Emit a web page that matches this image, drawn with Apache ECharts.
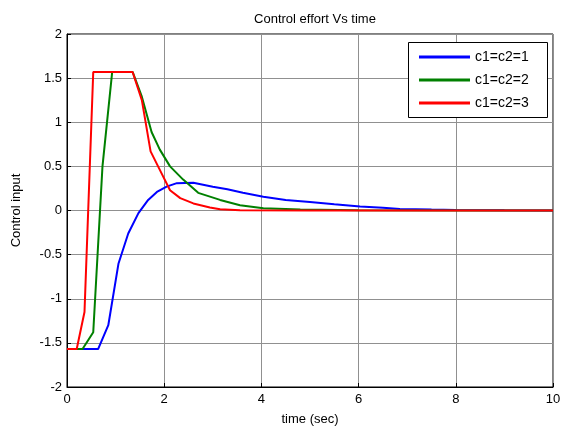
<!DOCTYPE html>
<html>
<head>
<meta charset="utf-8">
<script src="https://cdn.jsdelivr.net/npm/echarts@6/dist/echarts.min.js"></script>
<style>html,body{margin:0;padding:0;background:#fff;}#c{width:564px;height:437px;}</style>
</head>
<body>
<div id="c"></div>
<script>
var seriesNames = ['c1=c2=1', 'c1=c2=2', 'c1=c2=3'];
var t1 = [0, 0.64, 0.85, 1.06, 1.26, 1.47, 1.67, 1.85, 2.05, 2.26, 2.6, 3.0, 3.3, 3.62, 4.04, 4.5, 5.0, 5.5, 6.03, 6.5, 6.85, 7.5, 8.0, 9.0, 10];
var v1 = [-1.57, -1.57, -1.30, -0.60, -0.26, -0.03, 0.12, 0.21, 0.27, 0.31, 0.315, 0.27, 0.24, 0.2, 0.157, 0.12, 0.095, 0.07, 0.045, 0.03, 0.017, 0.01, 0.006, 0.002, 0];
var t2 = [0, 0.32, 0.54, 0.73, 0.93, 1.35, 1.54, 1.74, 1.91, 2.12, 2.39, 2.7, 3.15, 3.56, 4.04, 4.8, 6, 8, 10];
var v2 = [-1.57, -1.57, -1.38, 0.5, 1.57, 1.57, 1.29, 0.89, 0.69, 0.5, 0.35, 0.2, 0.12, 0.06, 0.025, 0.01, 0.003, 0, 0];
var t3 = [0, 0.2, 0.36, 0.54, 1.35, 1.54, 1.72, 1.91, 2.12, 2.33, 2.6, 2.94, 3.15, 3.56, 5, 10];
var v3 = [-1.57, -1.57, -1.15, 1.57, 1.57, 1.25, 0.67, 0.46, 0.23, 0.14, 0.08, 0.035, 0.015, 0.003, 0, 0];
var colors = ['#0000ff', '#008000', '#ff0000'];

function pairs(t, v) { return t.map(function (x, i) { return [x, v[i]]; }); }
var times = [t1, t2, t3], vals = [v1, v2, v3];
var font = 'Liberation Sans, Arial, sans-serif';

var chart = echarts.init(document.getElementById('c'));
chart.setOption({
  animation: false,
  backgroundColor: '#fff',
  title: {
    text: 'Control effort Vs time', left: 310, top: 8, textAlign: 'center',
    textStyle: { fontFamily: font, fontSize: 13, fontWeight: 'normal', color: '#000' }
  },
  grid: { left: 67, right: 11, top: 34, bottom: 50, show: true, borderColor: '#000', borderWidth: 1 },
  graphic: [{
    type: 'rect', left: 408, top: 42, z: 50,
    shape: { width: 139, height: 75 },
    style: { fill: '#fff', stroke: '#000', lineWidth: 1 }
  }],
  legend: {
    orient: 'vertical', left: 408, top: 42, z: 60,
    padding: [8, 10, 8, 11], itemGap: 9,
    itemWidth: 51, itemHeight: 14,
    textStyle: { fontFamily: font, fontSize: 14, color: '#000' },
    data: seriesNames.map(function (n, i) {
      return { name: n, icon: 'path://M0,0 L51,0 L51,3 L0,3 Z', itemStyle: { color: colors[i] } };
    })
  },
  xAxis: {
    type: 'value', min: 0, max: 10, interval: 2,
    name: 'time (sec)', nameLocation: 'middle', nameGap: 26,
    nameTextStyle: { fontFamily: font, fontSize: 13, color: '#000' },
    axisLine: { show: true, onZero: false, lineStyle: { color: '#000' } },
    axisTick: { show: true, inside: true, length: 4, lineStyle: { color: '#000' } },
    axisLabel: { fontFamily: font, fontSize: 13, color: '#000', margin: 6 },
    splitLine: { show: true, lineStyle: { color: '#909090', width: 1 } }
  },
  yAxis: {
    type: 'value', min: -2, max: 2, interval: 0.5,
    name: 'Control input', nameLocation: 'middle', nameGap: 44,
    nameTextStyle: { fontFamily: font, fontSize: 13, color: '#000' },
    axisLine: { show: true, onZero: false, lineStyle: { color: '#000' } },
    axisTick: { show: true, inside: true, length: 4, lineStyle: { color: '#000' } },
    axisLabel: { fontFamily: font, fontSize: 13, color: '#000', margin: 5 },
    splitLine: { show: true, lineStyle: { color: '#909090', width: 1 } }
  },
  series: seriesNames.map(function (n, i) {
    return {
      name: n, type: 'line', data: pairs(times[i], vals[i]),
      showSymbol: false, symbol: 'none', z: 3 + i,
      lineStyle: { color: colors[i], width: 2 }, itemStyle: { color: colors[i] }
    };
  })
});
</script>
</body>
</html>
